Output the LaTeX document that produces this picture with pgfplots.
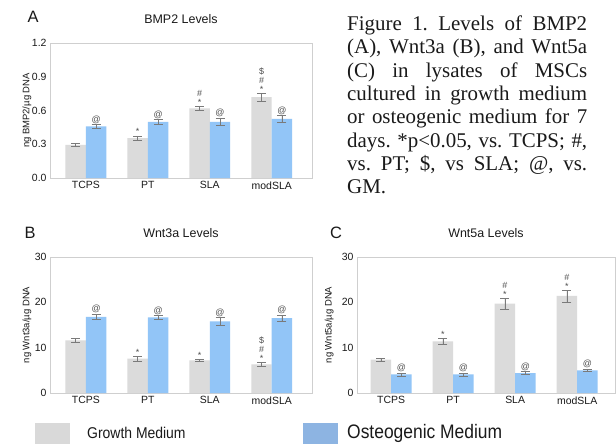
\documentclass[border=0pt]{standalone}
\usepackage{fontspec}
\setmainfont{Liberation Sans}
\newfontfamily\capfont{Liberation Serif}
\usepackage{pgfplots}
\pgfplotsset{compat=1.18}
\definecolor{gm}{HTML}{DBDBDB}
\definecolor{om}{HTML}{92C5F7}
\definecolor{gmleg}{HTML}{D9D9D9}
\definecolor{omleg}{HTML}{8DB4E2}
\definecolor{frame}{HTML}{CFCFCF}
\definecolor{errc}{HTML}{7A7A7A}
\definecolor{annc}{HTML}{505050}
\definecolor{txt}{HTML}{1A1A1A}
\frenchspacing
\pgfplotsset{
  panel/.style={
    scale only axis,
    clip=false,
    axis line style={draw=frame, line width=0.6bp},
    major tick length=0pt,
    ymin=0,
    xtick={0,1,2,3},
    xticklabels={TCPS,PT,SLA,modSLA},
    ticklabel style={font=\fontsize{10.5}{12}\selectfont, text=txt},
    /pgf/number format/assume math mode=true,
    title style={font=\fontsize{12.5}{14}\selectfont, anchor=center, yshift=18bp, text=txt},
    every axis y label/.style={at={(axis description cs:-0.088,0.5)}, rotate=90, anchor=center, font=\fontsize{9.5}{11}\selectfont, text=txt},
    error bars/error bar style={color=errc, line width=0.5bp},
    error bars/error mark options={rotate=90, mark size=4.5bp, color=errc, line width=0.5bp},
    every node near coord/.append style={font=\fontsize{9}{8.8}\selectfont, text=annc, align=center, anchor=south, inner sep=0.8bp},
  },
  gbar/.style={ybar, bar width=0.33, bar shift=0pt, fill=gm, draw=none,
    error bars/.cd, y dir=both, y explicit},
  bbar/.style={ybar, bar width=0.33, bar shift=0pt, fill=om, draw=none,
    error bars/.cd, y dir=both, y explicit},
  ann/.style={draw=none, mark=none, nodes near coords, point meta=explicit symbolic, forget plot},
}
\begin{document}
\begin{tikzpicture}
\useasboundingbox (0,0) rectangle (616bp,-444bp);
\fill[white] (0,0) rectangle (616bp,-444bp);

% Panel A
\begin{axis}[panel, at={(50bp,-178bp)}, anchor=south west, width=262bp, height=135bp,
  xmin=-0.58, xmax=3.65, ymax=1.2, ytick={0,0.3,0.6,0.9,1.2},
  yticklabel style={/pgf/number format/.cd, fixed, fixed zerofill, precision=1},
  title={BMP2 Levels}, ylabel={ng BMP2/µg DNA}]
\addplot[gbar] coordinates {(-0.165,0.295) +- (0,0.01) (0.835,0.355) +- (0,0.02) (1.835,0.62) +- (0,0.02) (2.835,0.72) +- (0,0.035)};
\addplot[bbar] coordinates {(0.165,0.46) +- (0,0.015) (1.165,0.50) +- (0,0.02) (2.165,0.50) +- (0,0.035) (3.165,0.525) +- (0,0.03)};
\addplot[ann] coordinates {(0.835,0.375) [*] (1.835,0.64) [\#\\*] (2.835,0.755) [\$\\\#\\*]};
\addplot[ann] coordinates {(0.165,0.475) [@] (1.165,0.52) [@] (2.165,0.535) [@] (3.165,0.555) [@]};
\end{axis}
\node[font=\fontsize{16.5}{18}\selectfont, text=txt] at (33bp,-17bp) {A};

% Panel B
\begin{axis}[panel, at={(50bp,-393bp)}, anchor=south west, width=262bp, height=136bp,
  xmin=-0.58, xmax=3.65, ymax=30, ytick={0,10,20,30},
  title={Wnt3a Levels}, ylabel={ng Wnt3a/µg DNA}]
\addplot[gbar] coordinates {(-0.165,11.6) +- (0,0.5) (0.835,7.6) +- (0,0.5) (1.835,7.2) +- (0,0.3) (2.835,6.3) +- (0,0.5)};
\addplot[bbar] coordinates {(0.165,16.8) +- (0,0.6) (1.165,16.7) +- (0,0.4) (2.165,15.8) +- (0,0.9) (3.165,16.5) +- (0,0.7)};
\addplot[ann] coordinates {(0.835,8.1) [*] (1.835,7.5) [*] (2.835,6.8) [\$\\\#\\*]};
\addplot[ann] coordinates {(0.165,17.4) [@] (1.165,17.1) [@] (2.165,16.7) [@] (3.165,17.2) [@]};
\end{axis}
\node[font=\fontsize{16.5}{18}\selectfont, text=txt] at (30bp,-233bp) {B};

% Panel C
\begin{axis}[panel, at={(357bp,-393bp)}, anchor=south west, width=258bp, height=136bp,
  xmin=-0.55, xmax=3.61, ymax=30, ytick={0,10,20,30},
  every axis y label/.append style={at={(axis description cs:-0.108,0.5)}},
  title={Wnt5a Levels}, ylabel={ng Wnt5a/µg DNA}]
\addplot[gbar] coordinates {(-0.165,7.35) +- (0,0.3) (0.835,11.4) +- (0,0.7) (1.835,19.7) +- (0,1.2) (2.835,21.4) +- (0,1.3)};
\addplot[bbar] coordinates {(0.165,4.1) +- (0,0.3) (1.165,4.1) +- (0,0.3) (2.165,4.4) +- (0,0.3) (3.165,5.0) +- (0,0.3)};
\addplot[ann] coordinates {(0.835,12.1) [*] (1.835,20.9) [\#\\*] (2.835,22.7) [\#\\*]};
\addplot[ann] coordinates {(0.165,4.4) [@] (1.165,4.4) [@] (2.165,4.7) [@] (3.165,5.3) [@]};
\end{axis}
\node[font=\fontsize{16.5}{18}\selectfont, text=txt] at (336bp,-233bp) {C};

% Caption
\begin{scope}[every node/.style={anchor=base west, inner sep=0, font=\capfont\fontsize{21}{23.3}\selectfont, text=txt}]
\node at (347bp,-30.5bp) {\makebox[240bp][s]{Figure 1. Levels of BMP2}};
\node at (347bp,-53.8bp) {\makebox[240bp][s]{(A), Wnt3a (B), and Wnt5a}};
\node at (347bp,-77.1bp) {\makebox[240bp][s]{(C) in lysates of MSCs}};
\node at (347bp,-100.4bp) {\makebox[240bp][s]{cultured in growth medium}};
\node at (347bp,-123.7bp) {\makebox[240bp][s]{or osteogenic medium for 7}};
\node at (347bp,-147bp) {\makebox[240bp][s]{days. *p<0.05, vs. TCPS; \#,}};
\node at (347bp,-170.3bp) {\makebox[240bp][s]{vs. PT; \$, vs SLA; @, vs.}};
\node at (347bp,-193.6bp) {GM.};
\end{scope}

% Legend
\fill[gmleg] (35bp,-423bp) rectangle (70bp,-444bp);
\fill[omleg] (303bp,-423bp) rectangle (338bp,-444bp);
\node[anchor=west, inner sep=0, text=txt] at (87bp,-433bp) {\scalebox{1}[1.12]{\fontsize{14}{16}\selectfont Growth Medium}};
\node[anchor=west, inner sep=0, text=txt] at (347bp,-433bp) {\scalebox{1}[1.12]{\fontsize{17.5}{20}\selectfont Osteogenic Medium}};
\end{tikzpicture}
\end{document}
